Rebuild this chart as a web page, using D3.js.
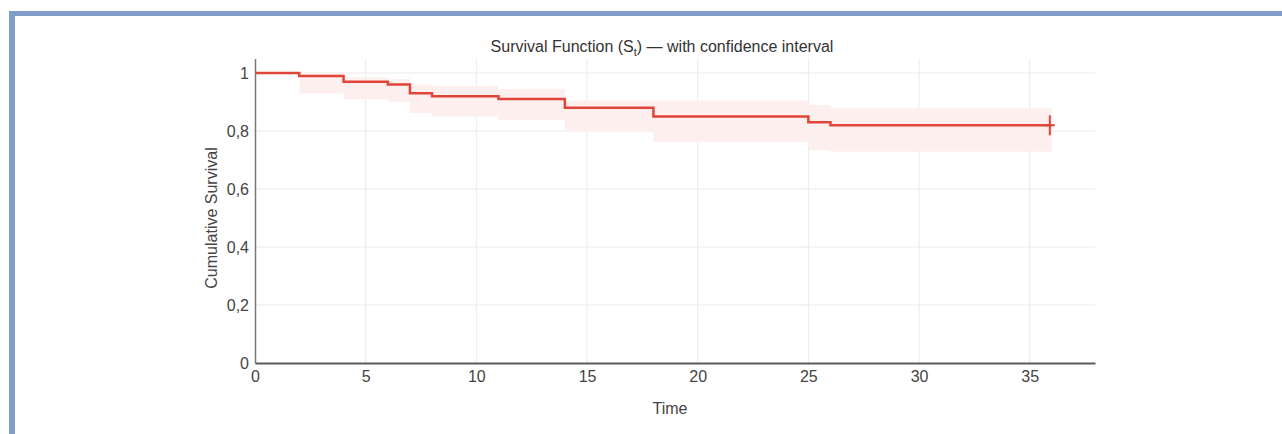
<!DOCTYPE html>
<html>
<head>
<meta charset="utf-8">
<script src="https://cdn.jsdelivr.net/npm/d3@7"></script>
<style>
  html, body { margin: 0; padding: 0; background: #fff; }
  svg { display: block; font-family: "Liberation Sans", Arial, sans-serif; }
</style>
</head>
<body>
<svg id="chart"></svg>
<script>
var width = 1282, height = 434;

// Kaplan-Meier steps (time the step starts, survival, CI lower, CI upper)
var times = [0, 2, 4, 6, 7, 8, 11, 14, 18, 25, 26]
var surv  = [1, 0.99, 0.97, 0.96, 0.93, 0.92, 0.91, 0.88, 0.85, 0.83, 0.82]
var lower = [1, 0.93, 0.91, 0.90, 0.862, 0.85, 0.838, 0.80, 0.763, 0.734, 0.729]
var upper = [1, 1.0, 0.985, 0.98, 0.96, 0.955, 0.945, 0.905, 0.905, 0.89, 0.878]
var endTime = 36
var censored = [36]

var xTicks = [0, 5, 10, 15, 20, 25, 30, 35]
var yTicks = [0, 0.2, 0.4, 0.6, 0.8, 1]

var svg = d3.select("#chart")
    .attr("width", width)
    .attr("height", height);

// page frame (blue bars top and left)
svg.append("rect").attr("x", 9).attr("y", 11).attr("width", width - 9).attr("height", 5).attr("fill", "#819dcc");
svg.append("rect").attr("x", 9).attr("y", 11).attr("width", 6).attr("height", height - 11).attr("fill", "#819dcc");

var x = d3.scaleLinear().domain([0, 37.95]).range([255, 1095]);
var y = d3.scaleLinear().domain([0, 1.05]).range([363, 58.5]);

// grid
svg.append("g").selectAll("line")
    .data(yTicks.filter(d => d > 0))
    .enter().append("line")
    .attr("x1", x(0)).attr("x2", x(37.95))
    .attr("y1", d => y(d)).attr("y2", d => y(d))
    .attr("stroke", "#ebebeb").attr("stroke-width", 1);

svg.append("g").selectAll("line")
    .data(xTicks.filter(d => d > 0))
    .enter().append("line")
    .attr("x1", d => x(d)).attr("x2", d => x(d))
    .attr("y1", y(1.05)).attr("y2", y(0))
    .attr("stroke", "#ebebeb").attr("stroke-width", 1);

// build step data
var steps = times.map(function (t, i) {
    return { t0: t, t1: i < times.length - 1 ? times[i + 1] : endTime, s: surv[i], lo: lower[i], hi: upper[i] }
})

// confidence band
svg.append("g").selectAll("rect")
    .data(steps)
    .enter().append("rect")
    .attr("x", d => x(d.t0))
    .attr("width", d => x(d.t1) - x(d.t0))
    .attr("y", d => y(d.hi))
    .attr("height", d => y(d.lo) - y(d.hi))
    .attr("fill", "#fcefee");

// survival step line
var pts = []
steps.forEach(function (d) {
    pts.push([d.t0, d.s]);
    pts.push([d.t1, d.s]);
})
svg.append("path")
    .datum(pts)
    .attr("fill", "none")
    .attr("stroke", "#e0453a")
    .attr("stroke-width", 2.5)
    .attr("d", d3.line().x(d => x(d[0])).y(d => y(d[1])));

// censor marks
svg.append("g").selectAll("path")
    .data(censored)
    .enter().append("path")
    .attr("d", function (d) {
        var cx = x(d) - 2, cy = y(surv[surv.length - 1]);
        return "M" + cx + "," + (cy - 10) + "V" + (cy + 10) + "M" + (cx - 5) + "," + cy + "H" + (cx + 5);
    })
    .attr("stroke", "#e0453a")
    .attr("stroke-width", 2);

// axes
var xAxis = svg.append("g")
    .attr("transform", "translate(0," + y(0) + ")")
    .call(d3.axisBottom(x).tickValues(xTicks).tickSize(0).tickPadding(8));
xAxis.select(".domain").attr("stroke", "#5a5a5a").attr("stroke-width", 2);
xAxis.selectAll("text").attr("font-size", 16).attr("fill", "#444").style("font-family", "Liberation Sans, Arial, sans-serif");

var yAxis = svg.append("g")
    .attr("transform", "translate(" + x(0) + ",0)")
    .call(d3.axisLeft(y).tickValues(yTicks).tickSize(0).tickPadding(6)
        .tickFormat(d => String(d).replace(".", ",")));
yAxis.select(".domain").attr("stroke", "#777").attr("stroke-width", 1.5);
yAxis.selectAll("text").attr("font-size", 16).attr("fill", "#444").style("font-family", "Liberation Sans, Arial, sans-serif");

// title
var title = svg.append("text")
    .attr("x", 662).attr("y", 52)
    .attr("text-anchor", "middle")
    .attr("font-size", 16)
    .attr("fill", "#333");
title.append("tspan").text("Survival Function (S");
title.append("tspan").attr("font-size", 11).attr("dy", 4).text("t");
title.append("tspan").attr("dy", -4).text(") \u2014 with confidence interval");

// axis labels
svg.append("text")
    .attr("x", 670).attr("y", 414)
    .attr("text-anchor", "middle")
    .attr("font-size", 16)
    .attr("fill", "#444")
    .text("Time");

svg.append("text")
    .attr("transform", "translate(217,218) rotate(-90)")
    .attr("text-anchor", "middle")
    .attr("font-size", 16)
    .attr("fill", "#444")
    .text("Cumulative Survival");
</script>
</body>
</html>
